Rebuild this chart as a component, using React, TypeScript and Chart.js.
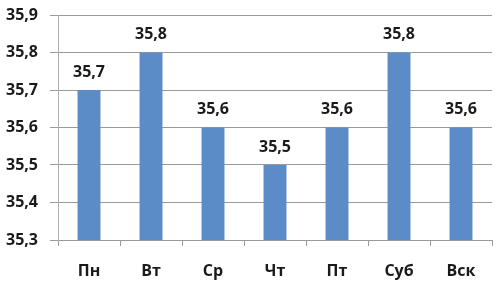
import React, { useEffect, useRef } from "react";
import { Chart, registerables } from "chart.js";

Chart.register(...registerables);

const categories = ["Пн", "Вт", "Ср", "Чт", "Пт", "Суб", "Вск"];
const values = [35.7, 35.8, 35.6, 35.5, 35.6, 35.8, 35.6];
const yMin = 35.3;
const yMax = 35.9;
const yStep = 0.1;

const FONT = "'Open Sans', 'DejaVu Sans', sans-serif";
const fmt = (v: number) => v.toFixed(1).replace(".", ",");

const dataLabels = {
  id: "dataLabels",
  afterDatasetsDraw(chart: any) {
    const ctx = chart.ctx;
    const meta = chart.getDatasetMeta(0);
    ctx.save();
    ctx.font = `bold 16px ${FONT}`;
    ctx.fillStyle = "#1a1a1a";
    ctx.textAlign = "center";
    ctx.textBaseline = "middle";
    meta.data.forEach((bar: any, i: number) => {
      ctx.fillText(fmt(values[i]), bar.x, bar.y - 18);
    });
    ctx.restore();
  },
};

export default function App() {
  const ref = useRef<HTMLCanvasElement>(null);
  useEffect(() => {
    document.body.style.margin = "0";
    const chart = new Chart(ref.current!, {
      type: "bar",
      data: {
        labels: categories,
        datasets: [
          {
            data: values,
            backgroundColor: "#5b8cc8",
            borderWidth: 0,
            categoryPercentage: 1,
            barPercentage: 0.37,
          },
        ],
      },
      options: {
        animation: false,
        responsive: false,
        layout: { padding: { top: 15, right: 10, bottom: 0, left: 0 } },
        plugins: { legend: { display: false }, tooltip: { enabled: false } },
        scales: {
          x: {
            afterFit(scale: any) {
              scale.height = 48;
              scale.paddingLeft = 0;
              scale.paddingRight = 0;
            },
            grid: {
              drawOnChartArea: false,
              tickLength: 6,
              color: "#9a9a9a",
              offset: true,
            },
            border: { display: true, color: "#9a9a9a" },
            ticks: {
              font: { family: FONT, size: 16, weight: "bold" },
              color: "#1a1a1a",
              padding: 16,
            },
          },
          y: {
            min: yMin,
            max: yMax,
            afterFit(scale: any) {
              scale.width = 58;
              scale.paddingTop = 0;
              scale.paddingBottom = 0;
            },
            ticks: {
              stepSize: yStep,
              font: { family: FONT, size: 16, weight: "bold" },
              color: "#1a1a1a",
              padding: 12,
              callback: (v: any) => fmt(Number(v)),
            },
            grid: { color: "#9a9a9a", tickLength: 8 },
            border: { display: true, color: "#b0b0b0" },
          },
        },
      },
      plugins: [dataLabels],
    });
    return () => chart.destroy();
  }, []);
  return (
    <div style={{ position: "absolute", left: 0, top: 0, width: 502, height: 288 }}>
      <canvas ref={ref} width={502} height={288} />
    </div>
  );
}
